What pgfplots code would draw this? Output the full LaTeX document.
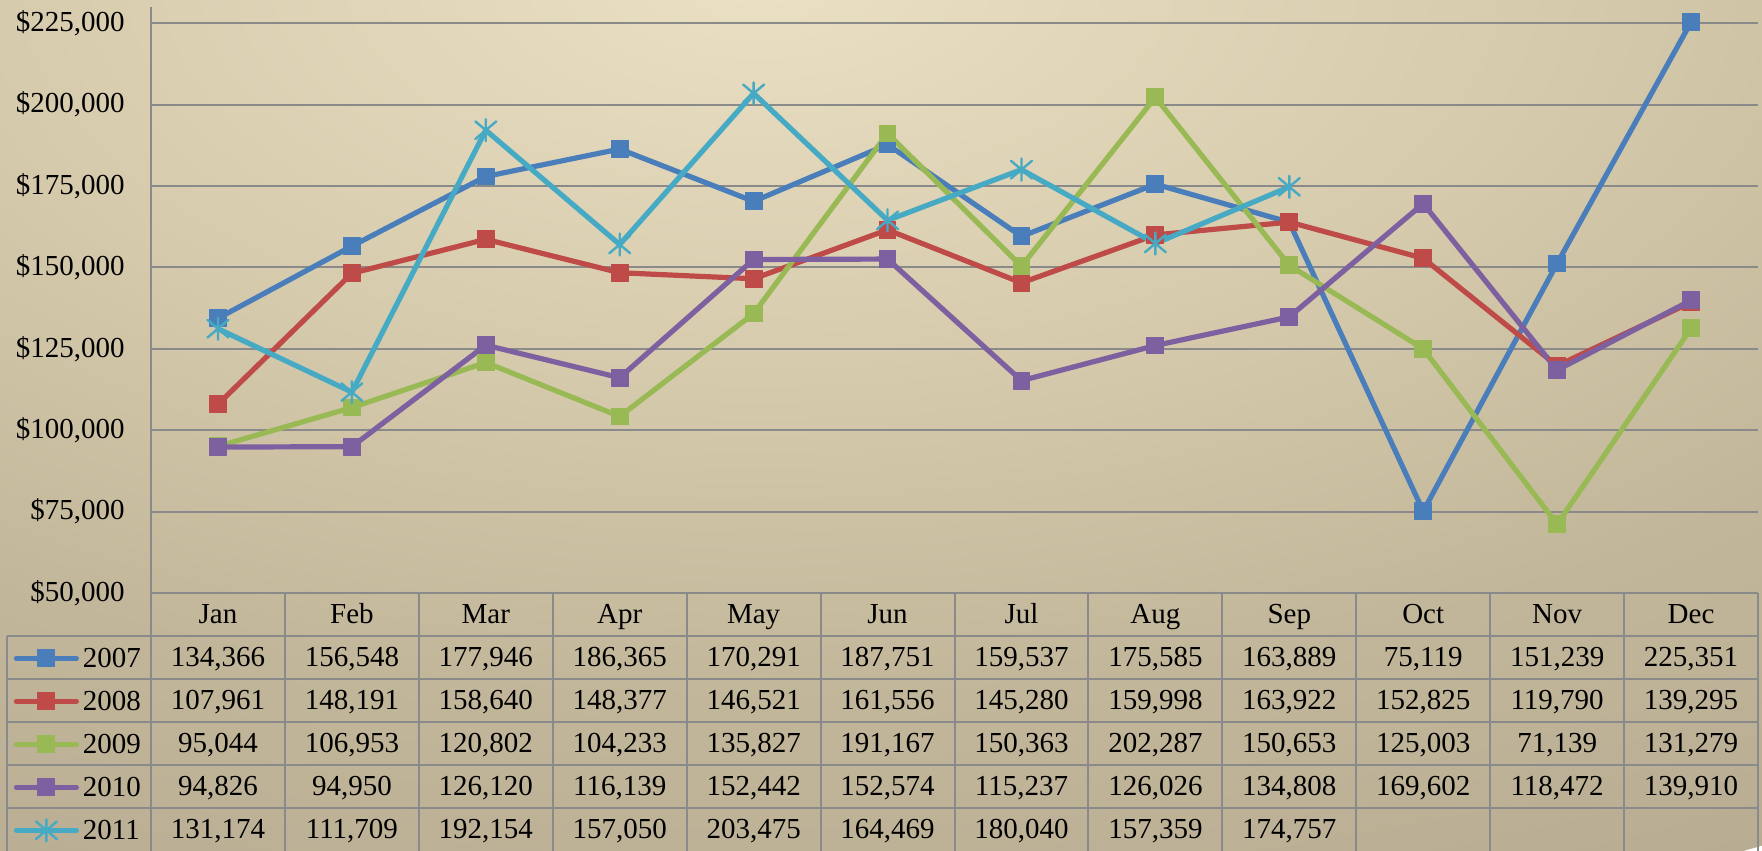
\documentclass[border=0pt]{standalone}
\usepackage{fontspec}
\setmainfont{Liberation Serif}
\usepackage{pgfplots}
\pgfplotsset{compat=1.18}
\usepackage{pgfplotstable}

\definecolor{c2007}{RGB}{74,126,187}
\definecolor{c2008}{RGB}{190,75,72}
\definecolor{c2009}{RGB}{152,185,84}
\definecolor{c2010}{RGB}{125,96,160}
\definecolor{c2011}{RGB}{70,170,197}
\definecolor{gridgray}{RGB}{138,138,138}

\pgfdeclareradialshading{bgshade}{\pgfpoint{0bp}{0bp}}{%
rgb(0bp)=(0.918,0.878,0.765);
rgb(10bp)=(0.839,0.792,0.675);
rgb(18bp)=(0.761,0.714,0.604);
rgb(25bp)=(0.722,0.678,0.576);
rgb(30bp)=(0.698,0.655,0.553);
rgb(36bp)=(0.667,0.624,0.514);
rgb(45bp)=(0.627,0.584,0.467);
rgb(50bp)=(0.588,0.549,0.431)}

\pgfdeclareplotmark{xstar}{%
  \pgfpathmoveto{\pgfqpoint{0pt}{\pgfplotmarksize}}%
  \pgfpathlineto{\pgfqpoint{0pt}{-\pgfplotmarksize}}%
  \pgfpathmoveto{\pgfqpoint{-0.95\pgfplotmarksize}{0.8\pgfplotmarksize}}%
  \pgfpathlineto{\pgfqpoint{0.95\pgfplotmarksize}{-0.8\pgfplotmarksize}}%
  \pgfpathmoveto{\pgfqpoint{-0.95\pgfplotmarksize}{-0.8\pgfplotmarksize}}%
  \pgfpathlineto{\pgfqpoint{0.95\pgfplotmarksize}{0.8\pgfplotmarksize}}%
  \pgfusepathqstroke}

\newcommand\tf{\fontsize{14.5}{17}\selectfont}

\pgfplotstableread{
idx y2007 y2008 y2009 y2010 y2011
0  134366 107961 95044  94826  131174
1  156548 148191 106953 94950  111709
2  177946 158640 120802 126120 192154
3  186365 148377 104233 116139 157050
4  170291 146521 135827 152442 203475
5  187751 161556 191167 152574 164469
6  159537 145280 150363 115237 180040
7  175585 159998 202287 126026 157359
8  163889 163922 150653 134808 174757
9  75119  152825 125003 169602 nan
10 151239 119790 71139  118472 nan
11 225351 139295 131279 139910 nan
}\datatable

\pgfkeys{/pgf/number format/.cd, fixed, precision=0, 1000 sep={,}, assume math mode=true}

\begin{document}
\begin{tikzpicture}
\useasboundingbox (-75.5pt,-129pt) rectangle (805.5pt,296.5pt);
\begin{scope}
\clip (-75.5pt,-129pt) rectangle (805.5pt,296.5pt);
\shade[shading=bgshade] (304.5pt,306.5pt) ellipse (1000pt and 500pt);
\end{scope}

\begin{axis}[
  at={(0,0)}, anchor=south west,
  scale only axis, width=803.5pt, height=293pt,
  xmin=-0.5, xmax=11.5, ymin=50000, ymax=230000,
  xtick=\empty,
  ytick={50000,75000,100000,125000,150000,175000,200000,225000},
  yticklabels={{\$50,000},{\$75,000},{\$100,000},{\$125,000},{\$150,000},{\$175,000},{\$200,000},{\$225,000}},
  yticklabel style={font=\tf, anchor=east, inner sep=0pt, xshift=-13pt},
  major tick length=0pt,
  ymajorgrids,
  grid style={gridgray, line width=1pt},
  axis lines*=left,
  axis line style={-, gridgray, line width=1pt},
  axis background/.style={fill=none},
  clip=false,
  every axis plot/.append style={line width=2.6pt, line join=round, line cap=round},
  legend style={at={(0,0)}, anchor=north east, xshift=-5pt, yshift=-21.5pt,
    draw=none, fill=none, inner sep=0pt, outer sep=0pt, row sep=0pt, column sep=2pt,
    font=\tf, nodes={inner sep=0pt, text height=15.5pt, text depth=6pt},
    cells={anchor=west}},
  legend image code/.code={\draw[mark repeat=2, mark phase=2, yshift=-0.4pt] plot coordinates {(0pt,0pt)(15pt,0pt)(30pt,0pt)};},
]
\addplot[c2007, mark=square*, mark size=4.2pt, mark options={solid, fill=c2007, line width=0.5pt}] table[x=idx, y=y2007] {\datatable};
\addlegendentry{2007}
\addplot[c2008, mark=square*, mark size=4.2pt, mark options={solid, fill=c2008, line width=0.5pt}] table[x=idx, y=y2008] {\datatable};
\addlegendentry{2008}
\addplot[c2009, mark=square*, mark size=4.2pt, mark options={solid, fill=c2009, line width=0.5pt}] table[x=idx, y=y2009] {\datatable};
\addlegendentry{2009}
\addplot[c2010, mark=square*, mark size=4.2pt, mark options={solid, fill=c2010, line width=0.5pt}] table[x=idx, y=y2010] {\datatable};
\addlegendentry{2010}
\addplot[c2011, mark=xstar, mark size=5.5pt, mark options={solid, line width=1.2pt}] table[x=idx, y=y2011] {\datatable};
\addlegendentry{2011}
\end{axis}

% table grid
\begin{scope}[gridgray, line width=1pt]
\foreach \k in {1,...,5} \draw (-72pt,{-21.5pt*\k}) -- (803.5pt,{-21.5pt*\k});
\foreach \j in {0,...,12} \draw ({66.9583pt*\j},0pt) -- ({66.9583pt*\j},-129pt);
\draw (-72pt,-21.5pt) -- (-72pt,-129pt);
\draw (0pt,0pt) -- (803.5pt,0pt);
\end{scope}

% header
\foreach \m [count=\i from 0] in {Jan,Feb,Mar,Apr,May,Jun,Jul,Aug,Sep,Oct,Nov,Dec}
  \node[font=\tf, anchor=base, inner sep=0pt] at ({(\i+0.5)*66.9583pt},{-10.75pt-4.6pt}) {\m};

% values
\foreach \k/\vals in {
 1/{134366,156548,177946,186365,170291,187751,159537,175585,163889,75119,151239,225351},
 2/{107961,148191,158640,148377,146521,161556,145280,159998,163922,152825,119790,139295},
 3/{95044,106953,120802,104233,135827,191167,150363,202287,150653,125003,71139,131279},
 4/{94826,94950,126120,116139,152442,152574,115237,126026,134808,169602,118472,139910},
 5/{131174,111709,192154,157050,203475,164469,180040,157359,174757}}{
  \foreach \v [count=\i from 0] in \vals
    \node[font=\tf, anchor=base, inner sep=0pt] at ({(\i+0.5)*66.9583pt},{-(\k+0.5)*21.5pt-4.6pt}) {\pgfmathprintnumber{\v}};
}
\end{tikzpicture}
\end{document}
